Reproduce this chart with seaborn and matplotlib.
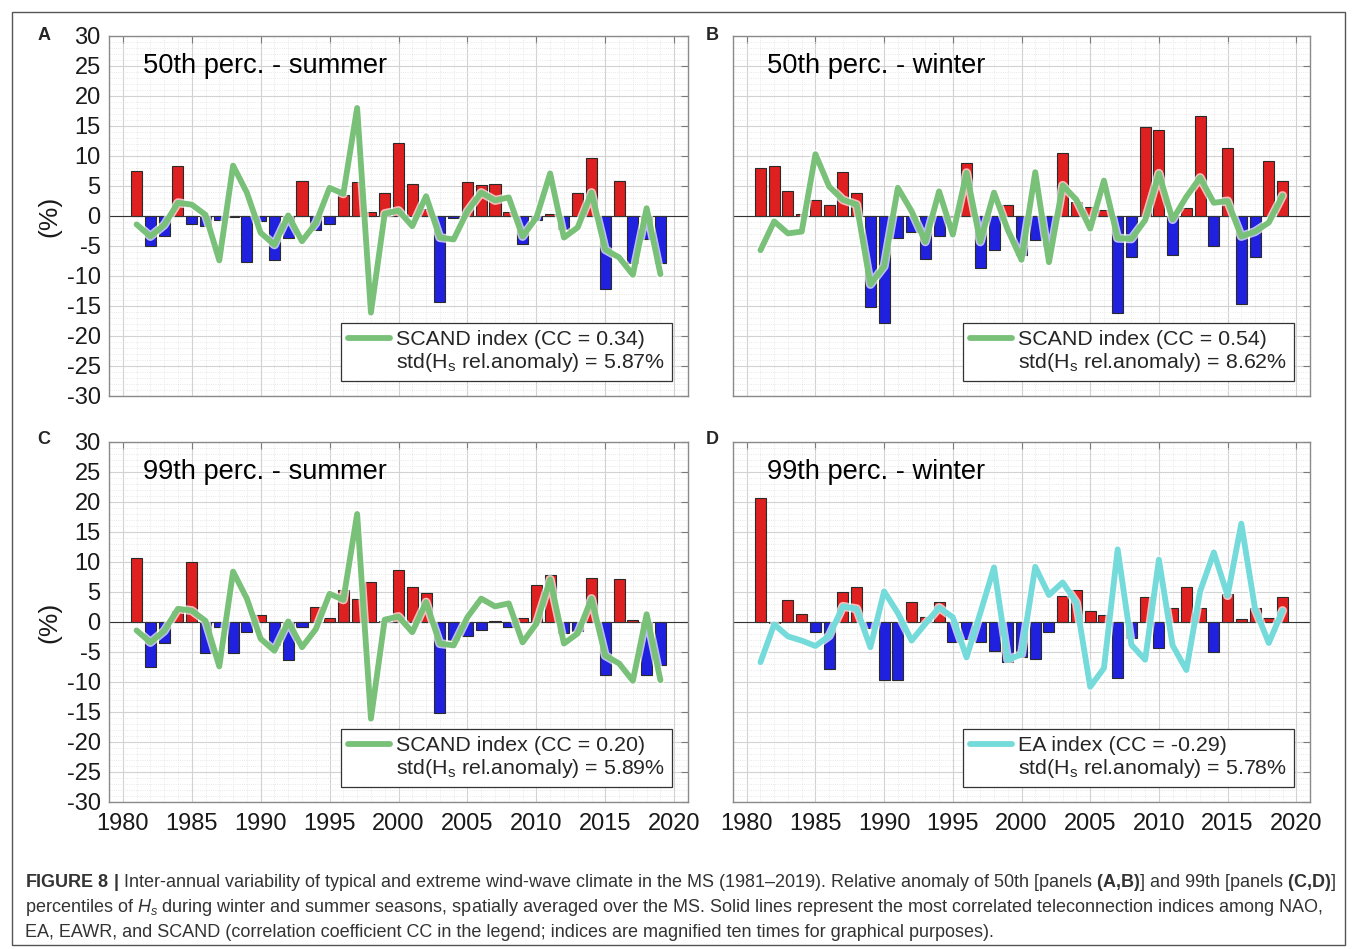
import numpy as np
import pandas as pd
import matplotlib
matplotlib.use("Agg")
import matplotlib.pyplot as plt
import matplotlib.patheffects as pe
from matplotlib.lines import Line2D
from matplotlib.patches import Rectangle
from matplotlib.ticker import MultipleLocator
from matplotlib import font_manager as fm
import seaborn as sns

# ---------------- data ----------------
years = list(range(1981, 2020))

p50_summer = [7.5, -5.0, -3.4, 8.4, -1.3, -1.7, -0.7, -0.1, -7.7, -0.9,
              -7.3, -3.7, 5.9, -2.4, -1.3, 3.5, 5.6, 0.6, 3.9, 12.1,
              5.3, 1.1, -14.3, -0.3, 5.7, 5.1, 5.3, 0.6, -4.6, -0.6,
              0.4, -2.2, 3.9, 9.6, -12.1, 5.9, -7.8, -3.8, -7.9]
p50_winter = [8.0, 8.4, 4.1, 0.4, 2.7, 1.8, 7.4, 3.9, -15.2, -17.8,
              -3.7, -2.6, -7.2, -3.3, -0.2, 8.8, -8.7, -5.7, 1.9, -6.5,
              -4.0, -5.0, 10.5, 2.3, 1.5, 1.0, -16.2, -6.9, 14.8, 14.4,
              -6.5, 1.3, 16.7, -5.0, 11.3, -14.6, -6.8, 9.2, 5.8]
p99_summer = [10.6, -7.5, -3.5, 1.9, 10.0, -5.2, -0.8, -5.1, -1.6, 1.1,
              -3.8, -6.4, -0.8, 2.5, 0.6, 5.3, 3.9, 6.6, 0.2, 8.6,
              5.8, 4.8, -15.2, -3.0, -2.4, -1.4, 0.2, -0.9, 0.7, 6.2,
              7.9, -1.9, -1.5, 7.4, -8.9, 7.1, 0.3, -8.8, -7.1]
p99_winter = [20.7, -0.2, 3.7, 1.4, -1.6, -7.9, 5.0, 5.8, -1.0, -9.6,
              -9.7, 3.3, 0.8, 3.4, -3.4, -2.8, -3.4, -4.8, -6.7, -5.9,
              -6.1, -1.7, 4.4, 5.3, 1.8, 1.2, -9.3, -2.7, 4.1, -4.4,
              2.3, 5.9, 2.4, -5.0, 4.7, 0.5, 2.3, 0.7, 4.1]

scand_summer = [-1.4, -3.4, -1.5, 2.2, 1.9, 0.2, -7.4, 8.4, 3.9, -2.8,
                -4.8, 0.1, -4.2, -1.2, 4.7, 3.7, 18.0, -16.1, 0.4, 0.9,
                -1.7, 3.3, -3.6, -3.9, 0.8, 3.9, 2.6, 3.1, -3.4, -0.3,
                7.1, -3.6, -1.9, 3.9, -5.6, -6.9, -9.8, 1.3, -9.7]
scand_winter = [-5.7, -0.9, -2.9, -2.6, 10.3, 4.9, 2.7, 1.9, -11.4, -8.4,
                4.7, 0.8, -4.3, 4.1, -3.1, 7.2, -4.3, 3.9, -2.3, -7.3,
                7.3, -7.7, 5.1, 2.7, -2.1, 5.9, -3.7, -3.8, -0.7, 7.1,
                -0.6, 3.2, 6.4, 2.2, 2.5, -3.4, -2.6, -1.1, 3.4]
ea_winter = [-6.7, -0.4, -2.4, -3.1, -4.0, -2.3, 2.6, 2.2, -4.2, 5.1,
             1.5, -3.1, -0.3, 2.4, 0.8, -5.9, 1.5, 9.1, -6.3, -5.4,
             9.2, 4.5, 6.6, 3.2, -10.8, -7.7, 12.1, -3.8, -6.3, 10.4,
             -3.9, -8.0, 5.1, 11.6, 4.4, 16.4, 2.2, -3.5, 1.9]

panel_letters = ["A", "B", "C", "D"]
panel_titles = ["50th perc. - summer", "50th perc. - winter",
                "99th perc. - summer", "99th perc. - winter"]
index_names = ["SCAND index (CC = 0.34)", "SCAND index (CC = 0.54)",
               "SCAND index (CC = 0.20)", "EA index (CC = -0.29)"]
std_labels = ["5.87%", "8.62%", "5.89%", "5.78%"]
bar_series = [p50_summer, p50_winter, p99_summer, p99_winter]
index_series = [scand_summer, scand_winter, scand_summer, ea_winter]

caption_lines = [
    r"$\mathbf{FIGURE\ 8\ |}$ Inter-annual variability of typical and extreme wind-wave climate in the MS (1981–2019). "
    r"Relative anomaly of 50th [panels $\mathbf{(A{,}B)}$] and 99th [panels $\mathbf{(C{,}D)}$]",
    r"percentiles of $H_s$ during winter and summer seasons, spatially averaged over the MS. "
    r"Solid lines represent the most correlated teleconnection indices among NAO,",
    "EA, EAWR, and SCAND (correlation coefficient CC in the legend; indices are magnified ten times for graphical purposes).",
]

# ---------------- style ----------------
sns.set_style("white")
plt.rcParams["font.family"] = ["Liberation Sans", "DejaVu Sans"]
plt.rcParams["axes.unicode_minus"] = False
names = {f.name for f in fm.fontManager.ttflist}
cap_font = "Liberation Sans Narrow" if "Liberation Sans Narrow" in names else "Liberation Sans"
plt.rcParams["mathtext.fontset"] = "custom"
plt.rcParams["mathtext.rm"] = cap_font
plt.rcParams["mathtext.it"] = cap_font + ":italic"
plt.rcParams["mathtext.bf"] = cap_font + ":bold"

GREEN = "#79c079"
CYAN = "#74dada"
line_colors = [GREEN, GREEN, GREEN, CYAN]

W, H = 1355, 949
fig = plt.figure(figsize=(W / 100, H / 100), dpi=100)

def ax_rect(l, r, t, b):
    return [l / W, 1 - b / H, (r - l) / W, (b - t) / H]

rects = [ax_rect(109, 688, 36, 396), ax_rect(733, 1310, 36, 396),
         ax_rect(109, 688, 442, 802), ax_rect(733, 1310, 442, 802)]
letter_pos = [(44, 36), (712, 36), (44, 440), (712, 440)]

for i in range(4):
    ax = fig.add_axes(rects[i])
    vals = np.array(bar_series[i])
    df = pd.DataFrame({"year": years, "anom": vals,
                       "sign": np.where(vals >= 0, "pos", "neg")})
    sns.barplot(data=df, x="year", y="anom", hue="sign",
                palette={"pos": "#ff0000", "neg": "#0000ff"},
                native_scale=True, dodge=False, width=0.8,
                edgecolor="#2a2a2a", linewidth=0.8, errorbar=None,
                legend=False, ax=ax, zorder=2)
    ax.axhline(0, color="#333333", lw=0.8, zorder=2.5)
    sns.lineplot(x=years, y=index_series[i], color=line_colors[i],
                 linewidth=4.2, ax=ax, zorder=4)
    ln = ax.lines[-1]
    ln.set_solid_joinstyle("round")
    ln.set_path_effects([pe.Stroke(linewidth=6.5, foreground="white", alpha=0.7),
                         pe.Normal()])

    ax.set_xlim(1979, 2021)
    ax.set_ylim(-30, 30)
    ax.xaxis.set_major_locator(MultipleLocator(5))
    ax.xaxis.set_minor_locator(MultipleLocator(1))
    ax.yaxis.set_major_locator(MultipleLocator(5))
    ax.yaxis.set_minor_locator(MultipleLocator(1))
    ax.grid(True, which="major", color="#d2d2d2", lw=0.8, zorder=0)
    ax.grid(True, which="minor", color="#e2e2e2", lw=0.6, ls=":", zorder=0)
    ax.set_axisbelow(True)
    ax.tick_params(which="major", direction="in", length=5, width=0.8,
                   color="#7a7a7a", top=True, right=True, labelsize=17,
                   labelcolor="#1a1a1a")
    ax.tick_params(which="minor", length=0)
    ax.tick_params(axis="y", pad=6)
    ax.tick_params(axis="x", pad=8)
    for s in ax.spines.values():
        s.set_color("#8a8a8a")
        s.set_linewidth(1.0)
    ax.set_xlabel("")
    if i % 2 == 0:
        ax.set_ylabel("(%)", fontsize=19, color="#1a1a1a")
        ax.yaxis.set_label_coords(-0.083, 0.5)
    else:
        ax.set_ylabel("")
        ax.set_yticklabels([])
    if i < 2:
        ax.set_xticklabels([])

    ax.text(0.059, 0.917, panel_titles[i], transform=ax.transAxes,
            fontsize=19.6, va="center", ha="left", color="black", zorder=6)
    fig.text(letter_pos[i][0] / W, 1 - letter_pos[i][1] / H, panel_letters[i],
             fontsize=13, fontweight="bold", ha="center", va="center")

    handles = [Line2D([0], [0], color=line_colors[i], lw=4.2),
               Line2D([], [], color="none")]
    labels = [index_names[i],
              r"std(H$_\mathregular{s}$ rel.anomaly) = " + std_labels[i]]
    leg = ax.legend(handles, labels, loc="lower right",
                    bbox_to_anchor=(0.9724, 0.0417), borderaxespad=0,
                    fontsize=15.4, handlelength=1.95, handletextpad=0.3,
                    labelspacing=0.1, borderpad=0.32, frameon=True,
                    fancybox=False, framealpha=1, edgecolor="#333333")
    leg.get_frame().set_linewidth(0.9)
    leg.set_zorder(10)

# figure frame
fig.add_artist(Rectangle((12 / W, 4 / H), 1333 / W, 933 / H, transform=fig.transFigure,
                         fill=False, edgecolor="#555555", lw=1.0))

# caption
cap_y = [887, 912, 937]
texts = []
for k, line in enumerate(caption_lines):
    t = fig.text(25 / W, 1 - cap_y[k] / H, line, fontsize=12,
                 family=cap_font, color="#333333", ha="left", va="baseline")
    texts.append(t)
fig.canvas.draw()
r = fig.canvas.get_renderer()
w1 = texts[0].get_window_extent(r).width
scale = 1310.0 / w1
for t in texts:
    t.set_fontsize(12 * scale)

fig.savefig("out.png", dpi=100)
